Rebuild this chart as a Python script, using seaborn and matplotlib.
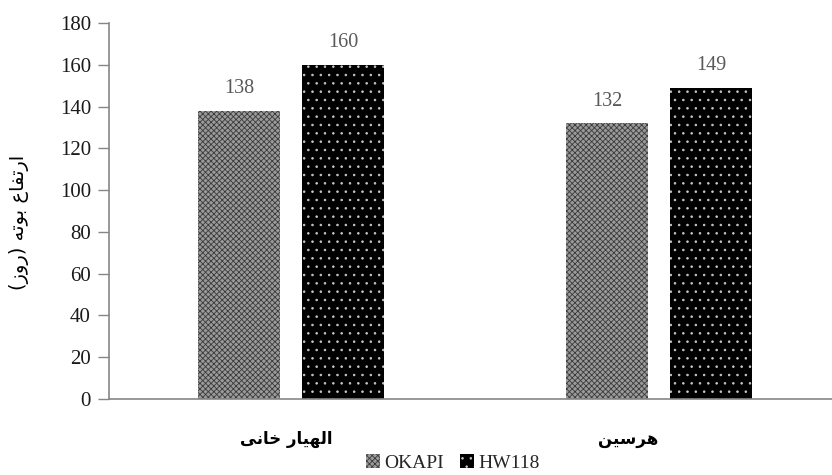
import matplotlib
matplotlib.use("Agg")
import matplotlib.pyplot as plt
import matplotlib.transforms as mtransforms
import seaborn as sns
import pandas as pd

# ---- data -------------------------------------------------------------
locations = ["الهیار خانی", "هرسین"]
varieties = ["OKAPI", "HW118"]
okapi_values = [138, 132]
hw118_values = [160, 149]
y_label = "ارتفاع بوته (روز)"
y_ticks = [0, 20, 40, 60, 80, 100, 120, 140, 160, 180]

# ---- minimal Arabic-script shaping for matplotlib (no bidi support) ----
FORMS = {  # isolated, final, initial, medial
    "ا": ("\uFE8D", "\uFE8E", None, None),
    "ب": ("\uFE8F", "\uFE90", "\uFE91", "\uFE92"),
    "ت": ("\uFE95", "\uFE96", "\uFE97", "\uFE98"),
    "خ": ("\uFEA5", "\uFEA6", "\uFEA7", "\uFEA8"),
    "ر": ("\uFEAD", "\uFEAE", None, None),
    "ز": ("\uFEAF", "\uFEB0", None, None),
    "س": ("\uFEB1", "\uFEB2", "\uFEB3", "\uFEB4"),
    "ع": ("\uFEC9", "\uFECA", "\uFECB", "\uFECC"),
    "ف": ("\uFED1", "\uFED2", "\uFED3", "\uFED4"),
    "ل": ("\uFEDD", "\uFEDE", "\uFEDF", "\uFEE0"),
    "ن": ("\uFEE5", "\uFEE6", "\uFEE7", "\uFEE8"),
    "ه": ("\uFEE9", "\uFEEA", "\uFEEB", "\uFEEC"),
    "و": ("\uFEED", "\uFEEE", None, None),
    "ی": ("\uFBFC", "\uFBFD", "\uFBFE", "\uFBFF"),
}
MIRROR = {"(": ")", ")": "("}


def shape_rtl(text):
    chars = list(text)
    out = []
    for i, ch in enumerate(chars):
        if ch not in FORMS:
            out.append(MIRROR.get(ch, ch))
            continue
        prev = chars[i - 1] if i > 0 else None
        nxt = chars[i + 1] if i + 1 < len(chars) else None
        join_prev = prev in FORMS and FORMS[prev][2] is not None
        join_next = FORMS[ch][2] is not None and nxt in FORMS
        iso, fin, ini, med = FORMS[ch]
        if join_prev and join_next:
            out.append(med)
        elif join_prev:
            out.append(fin)
        elif join_next:
            out.append(ini)
        else:
            out.append(iso)
    return "".join(reversed(out))


# ---- build table ---------------------------------------------------------
df = pd.DataFrame({
    "location": [shape_rtl(l) for l in locations] * 2,
    "variety": [varieties[0]] * len(locations) + [varieties[1]] * len(locations),
    "value": okapi_values + hw118_values,
})

sns.set_theme(style="white")
plt.rcParams["font.family"] = ["Liberation Serif", "DejaVu Sans"]
plt.rcParams["hatch.linewidth"] = 0.6

W, H = 832, 475
fig = plt.figure(figsize=(W / 100, H / 100), dpi=100)
ax = fig.add_axes([109 / W, 1 - 399 / H, 1 - 109 / W, (399 - 23) / H])

palette = {"OKAPI": "#9a9a9a", "HW118": "#000000"}
sns.barplot(data=df, x="location", y="value", hue="variety", hue_order=varieties,
            palette=palette, width=0.565, gap=0.21, saturation=1,
            legend=False, ax=ax)

styles = {
    "OKAPI": dict(hatch="xxxxxx", edgecolor="#3a3a3a"),
    "HW118": dict(hatch="..", edgecolor="#c8c8c8"),
}
for container, name in zip(ax.containers, varieties):
    for bar in container.patches:
        bar.set_hatch(styles[name]["hatch"])
        bar.set_edgecolor(styles[name]["edgecolor"])
        bar.set_linewidth(0)
    ax.bar_label(container, labels=[f"{v:.0f}" for v in container.datavalues],
                 padding=9, fontsize=14.5, color="#595959",
                 family="Liberation Serif")

ax.set_ylim(0, 180)
ax.set_xlim(-0.495, 1.47)
ax.set_yticks(y_ticks)
ax.tick_params(axis="y", which="both", left=True, length=8, width=1,
               color="#868686", labelsize=15, labelcolor="#1a1a1a", pad=5)
ax.tick_params(axis="x", bottom=False, length=0, pad=22)
for lab in ax.get_yticklabels():
    lab.set_family("Liberation Serif")

# horizontal nudges (pixels) for the category labels
label_shift = [-5, -31]
for lab, dx in zip(ax.get_xticklabels(), label_shift):
    lab.set_family("DejaVu Sans")
    lab.set_fontweight("bold")
    lab.set_fontsize(12)
    lab.set_color("#000000")
    lab.set_transform(lab.get_transform() +
                      mtransforms.ScaledTranslation(dx / 100, 0, fig.dpi_scale_trans))

for side in ("top", "right"):
    ax.spines[side].set_visible(False)
for side in ("left", "bottom"):
    ax.spines[side].set_color("#868686")
    ax.spines[side].set_linewidth(1.2)

ax.set_xlabel("")
ax.set_ylabel(shape_rtl(y_label), family="DejaVu Sans", fontsize=14,
              color="#000000")
ax.yaxis.set_label_coords(-80 / (W - 109), 0.47)

leg = ax.legend(handles=list(ax.containers), labels=varieties,
                loc="center", bbox_to_anchor=(453 / W, 12 / H),
                bbox_transform=fig.transFigure, ncol=2, frameon=False,
                handlelength=0.7, handleheight=0.7,
                handletextpad=0.25, columnspacing=0.8,
                prop={"family": "Liberation Serif", "size": 14})

fig.savefig("out.png", dpi=100)
